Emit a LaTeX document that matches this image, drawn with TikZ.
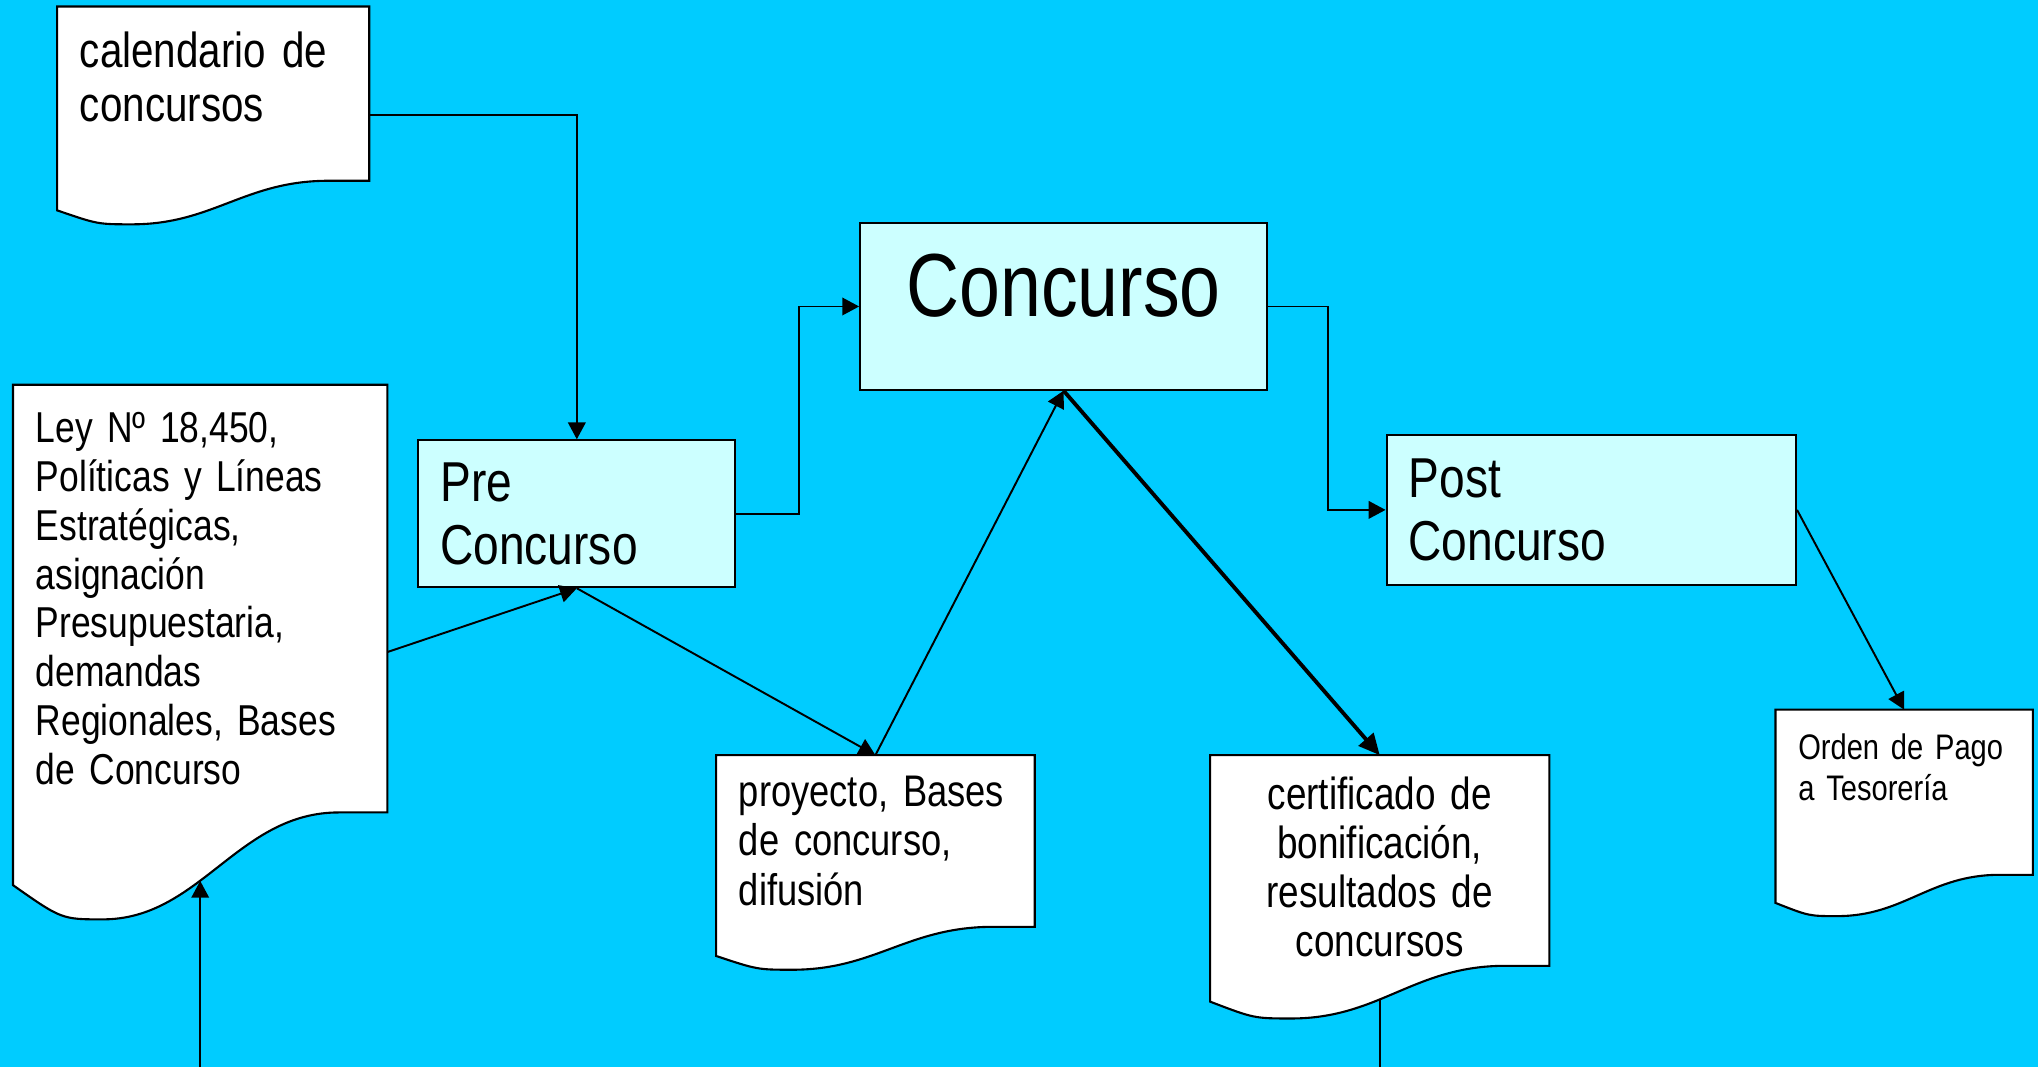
\documentclass[tikz,border=0pt]{standalone}
\usepackage{fontspec}
\setmainfont{Liberation Sans}[FakeStretch=0.82]
\usepackage{tikz}
\usetikzlibrary{
  positioning,
  calc,
  arrows.meta,
}
\definecolor{sky}{HTML}{00CCFF}
\definecolor{pale}{HTML}{CCFFFF}
\pgfdeclarelayer{skylayer}
\pgfdeclarelayer{paperlayer}
\pgfsetlayers{skylayer,paperlayer,main}
\tikzset{
  stage/.style = {
    rectangle,
    draw = black,
    fill = pale,
    line width = 0.6pt,
    anchor = north west,
    inner xsep = 0.221cm,
    inner ysep = 0pt,
    align = left
  },
  doc/.style = {
    rectangle,
    anchor = north west,
    inner xsep = 0.221cm,
    inner ysep = 0pt,
    align = left
  },
  paper/.style = {
    draw = black,
    fill = white,
    line width = 0.6pt
  },
  line/.style = {
    -{Triangle[length=4.8pt, width=5pt]},
    line width = 0.55pt
  },
  heavy/.style = {
    -{Triangle[length=6pt, width=5.5pt]},
    line width = 1.1pt
  },
}
% document sheet with wavy bottom, drawn behind the node
\newcommand{\docsheet}[1]{%
  \begin{pgfonlayer}{paperlayer}
    \draw[paper] let \p1 = (#1.north west), \p2 = (#1.south east),
        \n1 = {\x2-\x1}, \n2 = {\y1-\y2} in
      (\p1) -- (\x2,\y1) -- (\p2) -- ({\x1+0.87*\n1},\y2)
      .. controls ({\x1+0.6*\n1},\y2) and ({\x1+0.5*\n1},{\y2-0.25*\n2}) .. ({\x1+0.24*\n1},{\y2-0.25*\n2})
      .. controls ({\x1+0.13*\n1},{\y2-0.25*\n2}) .. (\x1,{\y2-0.17*\n2}) -- cycle;
  \end{pgfonlayer}
  \path let \p1 = (#1.north west), \p2 = (#1.south east), \n2 = {\y1-\y2} in
    coordinate (#1-r) at (\x2,{\y1-0.625*\n2})
    coordinate (#1-b) at ({0.5*\x1+0.5*\x2},{\y2-0.16*\n2});
}

\begin{document}
\begin{tikzpicture}[x=0.013cm, y=-0.013cm]
  \useasboundingbox (0,0) rectangle (1568,821);
  \begin{pgfonlayer}{skylayer}
    \fill[sky] (0,0) rectangle (1568,821);
  \end{pgfonlayer}
  \coordinate (floor) at (0,821);

  \node[doc, text width=2.665cm, minimum height=1.729cm, text depth=25pt,
    font=\fontsize{14}{15.5}\selectfont] (cal) at (44,5) {calendario de\\concursos};
  \node[doc, text width=3.289cm, minimum height=4.264cm,
    font=\fontsize{12.3}{13.9}\selectfont] (ley) at (10,296)
    {Ley Nº 18,450,\\Políticas y Líneas\\Estratégicas,\\asignación\\Presupuestaria,\\demandas\\Regionales, Bases\\de Concurso};
  \node[stage, text width=2.73cm, minimum height=1.469cm,
    font=\fontsize{16}{17.8}\selectfont] (pre) at (321,338) {Pre\\Concurso};
  \node[stage, text width=3.627cm, minimum height=1.664cm, align=center, text depth=12pt,
    font=\fontsize{25.5}{28}\selectfont] (con) at (661,171) {Concurso};
  \node[stage, text width=3.653cm, minimum height=1.495cm,
    font=\fontsize{16}{17.8}\selectfont] (post) at (1066,334) {Post\\Concurso};
  \node[doc, text width=2.73cm, minimum height=1.703cm,
    font=\fontsize{12.6}{14}\selectfont] (pro) at (551,581) {proyecto, Bases\\de concurso,\\difusión};
  \node[doc, text width=2.938cm, minimum height=2.093cm, align=center, text height=13pt,
    font=\fontsize{12.8}{14}\selectfont] (cer) at (931,581)
    {certificado de\\bonificación,\\resultados de\\concursos};
  \node[doc, text width=2.119cm, minimum height=1.638cm, text depth=26pt,
    font=\fontsize{10.1}{11.8}\selectfont] (ord) at (1366,546) {Orden de Pago\\a Tesorería};

  \docsheet{cal}
  \docsheet{ley}
  \docsheet{pro}
  \docsheet{cer}
  \docsheet{ord}

  \draw[line] (cal-r) -| (pre.north);
  \draw[line] (ley-r) -- (pre.south);
  \draw[line] (pre.east) -- ++(48,0) |- (con.west);
  \draw[line] (con.east) -- ++(46,0) |- (post.west);
  \draw[line] (post.east) -- (ord.north);
  \draw[line] (pre.south) -- (pro.north);
  \draw[line] (pro.north) -- (con.south);
  \draw[heavy] (con.south) -- (cer.north);
  \draw[line width=0.55pt] (cer-b) -- (cer-b |- floor);
  \draw[line] (ley-b |- floor) -- (ley-b);
\end{tikzpicture}
\end{document}
